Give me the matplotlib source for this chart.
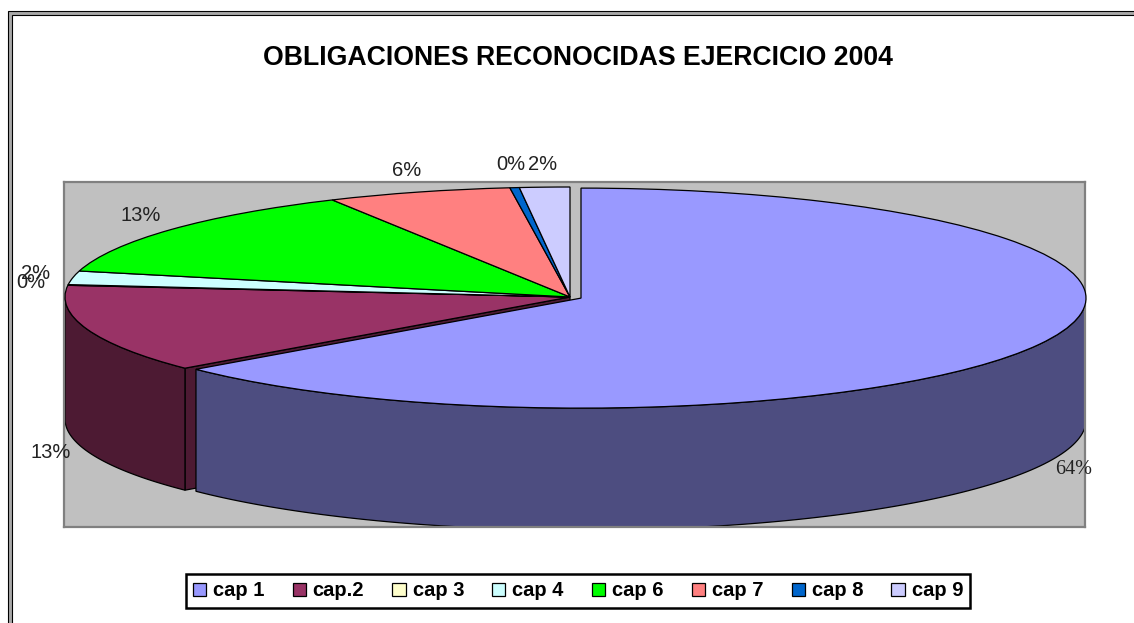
import numpy as np
import matplotlib
matplotlib.use('Agg')
import matplotlib.pyplot as plt
from matplotlib.patches import Polygon, Rectangle
from matplotlib.colors import to_rgb

# ---------------- data ----------------
categories = ['cap 1', 'cap.2', 'cap 3', 'cap 4', 'cap 6', 'cap 7', 'cap 8', 'cap 9']
values = [63.8, 12.9, 0.1, 2.0, 13.4, 5.9, 0.3, 1.6]
explode = [0.024, 0, 0, 0, 0, 0, 0, 0]
colors = ['#9999FF', '#993366', '#FFFFCC', '#CCFFFF', '#00FF00', '#FF8080', '#0066CC', '#CCCCFF']
title = 'OBLIGACIONES RECONOCIDAS EJERCICIO 2004'

# ---------------- layout ----------------
W, H = 1134, 623
fig = plt.figure(figsize=(W / 100, H / 100), dpi=100)
fig.patch.set_facecolor('white')


def fx(px):
    return px / W


def fy(py):
    return 1 - py / H


# double outer frame
outer = Rectangle((fx(7.5), -0.1), 1.2, fy(11.5) + 0.1, transform=fig.transFigure,
                  facecolor='#A8A8A8', edgecolor='black', lw=0.8, zorder=-10)
inner = Rectangle((fx(11.5), -0.1), 1.2, fy(15.5) + 0.1, transform=fig.transFigure,
                  facecolor='white', edgecolor='black', lw=0.8, zorder=-9)
fig.add_artist(outer)
fig.add_artist(inner)

fig.text(fx(578), fy(58), title, ha='center', va='center', fontsize=19.2,
         fontweight='bold', family='Liberation Sans', color='black')

# plot area (grey box) and pie geometry in pixels
L, R, T, B = 64, 1085, 182, 527
CX, CY, A, BR, D = 570, 297, 505, 110, 122

ax = fig.add_axes([fx(L), fy(B), fx(R) - fx(L), fy(T) - fy(B)])
wedges, _ = ax.pie(values, explode=explode, colors=colors, startangle=90,
                   counterclock=False, radius=1, center=(0, 0), frame=True,
                   wedgeprops=dict(edgecolor='black', linewidth=0.9, zorder=3))
ax.set_aspect('auto')
ax.set_xlim((L - CX) / A, (R - CX) / A)
ax.set_ylim((CY - B) / BR, (CY - T) / BR)
ax.set_xticks([])
ax.set_yticks([])
ax.set_facecolor('#C0C0C0')
for s in ax.spines.values():
    s.set_color('#808080')
    s.set_linewidth(1.6)

depth = D / BR
n = len(wedges)


def arc(cx, cy, t0, t1, dy=0.0, npts=120):
    t = np.radians(np.linspace(t0, t1, npts))
    return np.column_stack([cx + np.cos(t), cy + np.sin(t) + dy])


for i, (w, c) in enumerate(zip(wedges, colors)):
    cx, cy = w.center
    t1, t2 = w.theta1, w.theta2
    dark = tuple(0.5 * np.array(to_rgb(c)))
    # wedge order is clockwise: theta2 side touches previous wedge, theta1 side the next
    prev_exp = explode[(i - 1) % n]
    next_exp = explode[(i + 1) % n]
    faces = ((t2, np.cos(np.radians(t2)) < -1e-6, explode[i] > 0 or prev_exp > 0),
             (t1, np.cos(np.radians(t1)) > 1e-6, explode[i] > 0 or next_exp > 0))
    for ang, vis, gap in faces:
        if vis and gap:
            r = np.radians(ang)
            px, py = cx + np.cos(r), cy + np.sin(r)
            ax.add_patch(Polygon([(cx, cy), (px, py), (px, py - depth), (cx, cy - depth)],
                                 closed=True, facecolor=dark, edgecolor='black',
                                 lw=0.9, zorder=1))
    # outer side wall (front half only)
    for k in range(-2, 3):
        lo = max(t1, -180 + 360 * k)
        hi = min(t2, 360 * k)
        if hi > lo:
            pts = np.vstack([arc(cx, cy, lo, hi), arc(cx, cy, hi, lo, -depth)])
            ax.add_patch(Polygon(pts, closed=True, facecolor=dark, edgecolor='black',
                                 lw=0.9, zorder=2))

# percentage labels
total = sum(values)
for i, (w, v) in enumerate(zip(wedges, values)):
    m = np.radians((w.theta1 + w.theta2) / 2)
    cx, cy = w.center
    x = cx + 1.075 * np.cos(m)
    y = cy + 1.21 * np.sin(m) - (0.95 * depth if np.sin(m) < 0 else 0)
    fam = 'Liberation Serif' if i == 0 else 'Liberation Sans'
    ax.text(x, y, f'{100 * v / total:.0f}%', ha='center', va='center', fontsize=14.5,
            family=fam, color='#222222', clip_on=False, zorder=5)

leg = fig.legend(wedges, categories, loc='center', bbox_to_anchor=(fx(578), fy(591)),
                 ncol=8, frameon=True, fancybox=False, edgecolor='black',
                 prop=dict(family='Liberation Sans', weight='bold', size=14.5),
                 handlelength=0.65, handleheight=0.65, handletextpad=0.35,
                 columnspacing=1.4, borderpad=0.35, borderaxespad=0)
leg.get_frame().set_linewidth(1.8)
leg.get_frame().set_alpha(1)

fig.savefig('out.png', dpi=100)
